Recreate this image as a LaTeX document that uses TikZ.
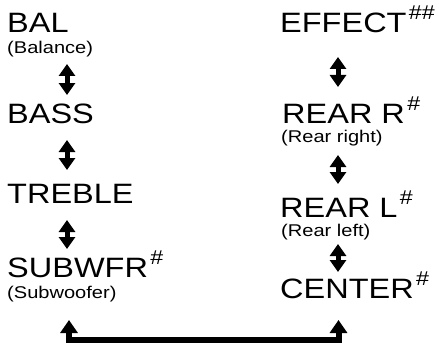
\documentclass[tikz,border=0pt]{standalone}
\usepackage{fontspec}
\setmainfont{Liberation Sans}
\usetikzlibrary{arrows.meta, positioning, calc}
\tikzstyle{menu} = [anchor=base west, inner sep=0pt, xscale=1.16, font=\fontsize{28}{28}\selectfont]
\tikzstyle{hint} = [anchor=base west, inner sep=0pt, xscale=1.18, font=\fontsize{17}{17}\selectfont]
\tikzstyle{updown} = [{Triangle[width=16pt,length=12pt]}-{Triangle[width=16pt,length=12pt]}, line width=5pt]
\tikzstyle{loopback} = [{Triangle[width=17pt,length=13pt]}-{Triangle[width=17pt,length=13pt]}, line width=6pt, line join=miter]
\newcommand{\sharpmark}[1]{\kern2pt\raisebox{13pt}{\fontsize{20}{20}\selectfont #1}}

\begin{document}
\begin{tikzpicture}[x=1pt, y=-1pt]
    \useasboundingbox (0,0) rectangle (439,353);

    % Left column
    \node[menu] (bal) at (7,33) {BAL};
    \node[hint] (balsub) at (7,54) {(Balance)};
    \node[menu] (bass) at (7,123) {BASS};
    \node[menu] (treble) at (7,203) {TREBLE};
    \node[menu] (subwfr) at (7,277) {SUBWFR\sharpmark{\#}};
    \node[hint] (subsub) at (7,298) {(Subwoofer)};

    % Right column
    \node[menu] (effect) at (280,33) {EFFECT\sharpmark{\#\#}};
    \node[menu] (rearr) at (282,123) {REAR R\sharpmark{\#}};
    \node[hint] (rearrsub) at (281,142) {(Rear right)};
    \node[menu] (rearl) at (280,217) {REAR L\sharpmark{\#}};
    \node[hint] (rearlsub) at (281,236) {(Rear left)};
    \node[menu] (center) at (280,298) {CENTER\sharpmark{\#}};

    \coordinate (lx) at (67,0);
    \coordinate (rx) at (338,0);
    \coordinate (lowl) at (69,340);
    \coordinate (lowr) at (338.5,340);

    % Up/down arrows
    \draw[updown] ($(balsub.base -| lx)+(0,10)$) -- ($(bass.base -| lx)+(0,-28)$);
    \draw[updown] ($(bass.base -| lx)+(0,17)$) -- ($(treble.base -| lx)+(0,-33)$);
    \draw[updown] ($(treble.base -| lx)+(0,17)$) -- ($(subwfr.base -| lx)+(0,-28)$);
    \draw[updown] ($(effect.base -| rx)+(0,24)$) -- ($(rearr.base -| rx)+(0,-36)$);
    \draw[updown] ($(rearrsub.base -| rx)+(0,13)$) -- ($(rearl.base -| rx)+(0,-33)$);
    \draw[updown] ($(rearlsub.base -| rx)+(0,8)$) -- ($(center.base -| rx)+(0,-26)$);

    % Loop back
    \draw[loopback] ($(subsub.base -| lowl)+(0,22)$) -- (lowl) -- (lowr) -- ($(center.base -| lowr)+(0,22)$);
\end{tikzpicture}
\end{document}
